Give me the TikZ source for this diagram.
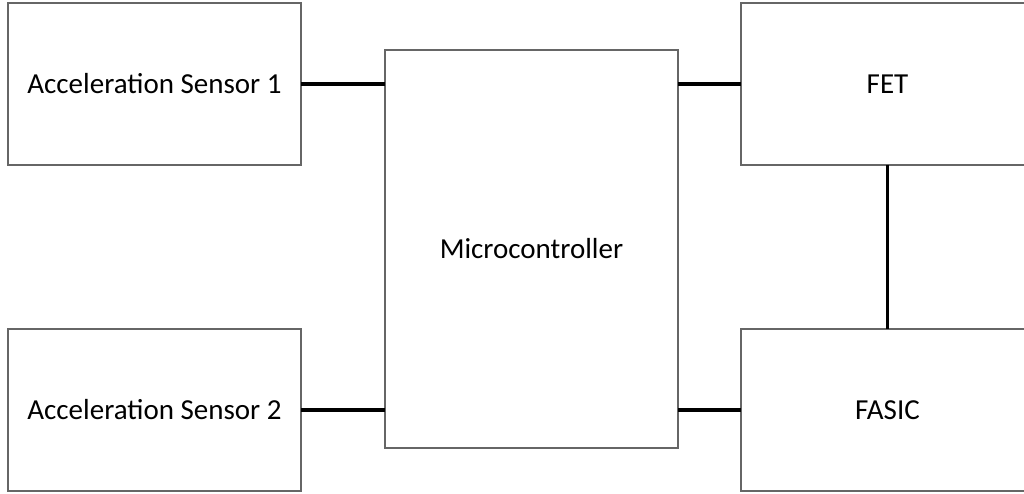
\documentclass[tikz,border=0pt]{standalone}
\usepackage{fontspec}
\setmainfont{Carlito}
\usetikzlibrary{positioning}

\begin{document}
\begin{tikzpicture}[
			font=\fontsize{16.5}{19}\selectfont,
			block/.style={rectangle, draw=black!60, line width=0.8pt, outer sep=0pt, minimum width=5.86cm, minimum height=3.24cm, align=center, inner sep=0pt},
			wire/.style={line width=1.8pt, black}
			]
			
			\useasboundingbox (0,0) rectangle (20.48,-9.88);
			
			% Sensoren
			\node (sens1) [block, anchor=north west] at (0.16,-0.06) {Acceleration Sensor 1};
			\node (sens2) [block, below=3.28cm of sens1] {Acceleration Sensor 2};
			
			% Controller
			\node (mcu) [block, minimum height=7.96cm, anchor=north west, xshift=1.68cm, yshift=-0.94cm] at (sens1.north east) {Microcontroller};
			
			% Ausgaenge
			\node (fet) [block, anchor=north west, xshift=1.26cm] at (mcu.north east |- sens1.north) {FET};
			\node (fasic) [block, below=3.28cm of fet] {FASIC};
			
			% Verbindungen
			\draw [wire] (sens1.east) -- (sens1.east -| mcu.west);
			\draw [wire] (sens2.east) -- (sens2.east -| mcu.west);
			\draw [wire] (fet.west -| mcu.east) -- (fet.west);
			\draw [wire] (fasic.west -| mcu.east) -- (fasic.west);
			\draw [wire] (fet.south) -- (fasic.north);
			
		\end{tikzpicture}
\end{document}
